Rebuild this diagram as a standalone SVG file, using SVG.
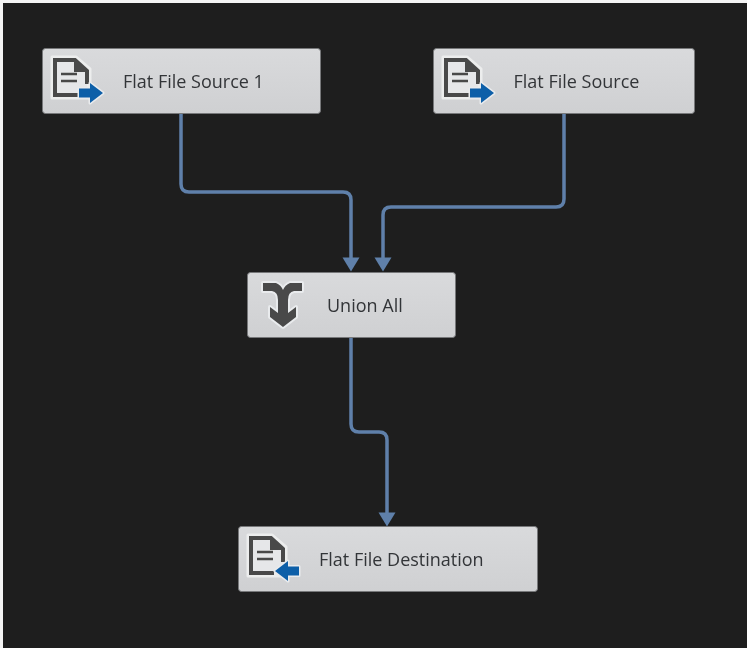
<svg xmlns="http://www.w3.org/2000/svg" width="747" height="648" viewBox="0 0 747 648">
<style>
.node{fill:url(#nodeFill);stroke:#77787a;stroke-width:1}
.label{font-family:"Open Sans","Liberation Sans",Arial,sans-serif;font-size:18px;fill:#333538}
.conn{fill:none;stroke:#5f80aa;stroke-width:3.500}
.head{fill:#5f80aa}
.docHalo{fill:#eceded;stroke:#eceded;stroke-width:3;stroke-linejoin:round}
.docBody{fill:none;stroke:#4a4a4a;stroke-width:4;stroke-linejoin:miter}
.docLine{stroke:#4a4a4a;stroke-width:2.500;fill:none}
.arrowIcon{fill:#0f5fa8;stroke:#e9ebed;stroke-width:3;stroke-linejoin:round;paint-order:stroke}
</style>
<defs>
<linearGradient id="nodeFill" x1="0" y1="0" x2="0" y2="1">
<stop offset="0" stop-color="#d9dadc"/><stop offset="1" stop-color="#cfd0d2"/>
</linearGradient>
<filter id="soft" x="-2%" y="-2%" width="104%" height="104%"><feGaussianBlur stdDeviation="0.700"/></filter>
<g id="doc">
<path class="docHalo" d="M-1 -1H23L37 11V40H-1Z"/>
<path d="M2 2H22L34 13V37H2Z" fill="#e6e7e9"/>
<path class="docBody" d="M25 37H2V2H22L34 13V26"/>
<path d="M21 2V14H34Z" fill="#4a4a4a"/>
<path class="docLine" d="M8 16H24M8 23H24"/>
</g>
<path id="arrowR" class="arrowIcon" d="M0 -4.500H11V-10L24 0L11 10V4.500H0Z"/>
<path id="arrowL" class="arrowIcon" d="M24 -4.500H13V-10L0 0L13 10V4.500H24Z"/>
</defs>
<rect width="747" height="648" fill="#1e1e1e"/>
<rect width="3" height="648" fill="#f4f4f4"/>
<rect width="747" height="3" fill="#f4f4f4"/>
<g filter="url(#soft)">
<g id="connectors">
<path class="conn" d="M181 114V184Q181 192 189 192H343Q351 192 351 200V258"/>
<path class="conn" d="M564 114V199Q564 207 556 207H391Q383 207 383 215V258"/>
<path class="conn" d="M351 338V424Q351 432 359 432H379Q387 432 387 440V513"/>
<path class="head" d="M342.500 257.500H359.500L351 271.500Z"/>
<path class="head" d="M374.500 257.500H391.500L383 271.500Z"/>
<path class="head" d="M378.500 512.500H395.500L387 526.500Z"/>
</g>
<g id="node-source1">
<rect class="node" x="42.500" y="48.500" width="278" height="65" rx="3"/>
<use href="#doc" x="53" y="58"/>
<use href="#arrowR" x="79" y="93"/>
<text class="label" x="123" y="88">Flat File Source 1</text>
</g>
<g id="node-source">
<rect class="node" x="433.500" y="48.500" width="261" height="65" rx="3"/>
<use href="#doc" x="444" y="58"/>
<use href="#arrowR" x="470" y="93"/>
<text class="label" x="513.500" y="88">Flat File Source</text>
</g>
<g id="node-union">
<rect class="node" x="247.500" y="272.500" width="208" height="65" rx="3"/>
<path d="M263 283H276Q281 285 283 290Q285 285 290 283H302V291H294Q288 292 288 300V313L296 307V317L283 327L270 317V307L278 313V300Q278 292 272 291H263Z" fill="#4a4a4a" stroke="#e9ebed" stroke-width="4" stroke-linejoin="round" paint-order="stroke"/>
<text class="label" x="327" y="312">Union All</text>
</g>
<g id="node-destination">
<rect class="node" x="238.500" y="526.500" width="299" height="65" rx="3"/>
<use href="#doc" x="249" y="536"/>
<use href="#arrowL" x="275" y="571"/>
<text class="label" x="319" y="566">Flat File Destination</text>
</g>
</g>
</svg>
